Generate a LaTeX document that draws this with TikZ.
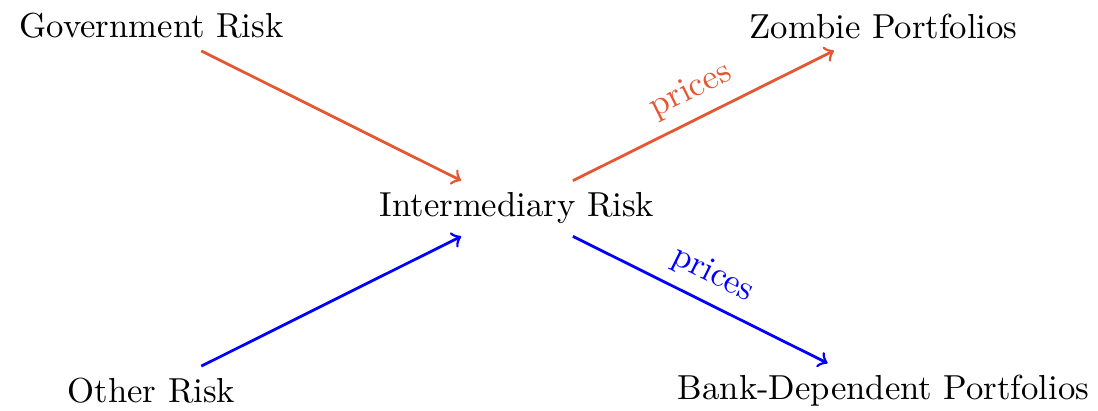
\documentclass[tikz,border=0pt]{standalone}
\definecolor{rustorange}{RGB}{228,87,50}
\tikzset{
  px/.style={x=0.2882pt,y=-0.2882pt},
  lbl/.style={inner sep=3.333pt},
  flow/.style={->,thick},
  pricelbl/.style={midway,above,sloped}
}
\begin{document}
\begin{tikzpicture}[px]
\useasboundingbox (0,0) rectangle (1098,410);
\node[lbl] (gov) at (151.5,26) {Government Risk};
\node[lbl] (zombie) at (883.5,26) {Zombie Portfolios};
\node[lbl] (int) at (517,208.5) {Intermediary Risk};
\node[lbl] (other) at (151.5,391) {Other Risk};
\node[lbl] (bank) at (883.5,391) {Bank-Dependent Portfolios};
\draw[flow,rustorange] (gov) -- (int);
\draw[flow,blue] (other) -- (int);
\draw[flow,rustorange] (int) -- node[pricelbl] {prices} (zombie);
\draw[flow,blue] (int) -- node[pricelbl] {prices} (bank);
\end{tikzpicture}
\end{document}
